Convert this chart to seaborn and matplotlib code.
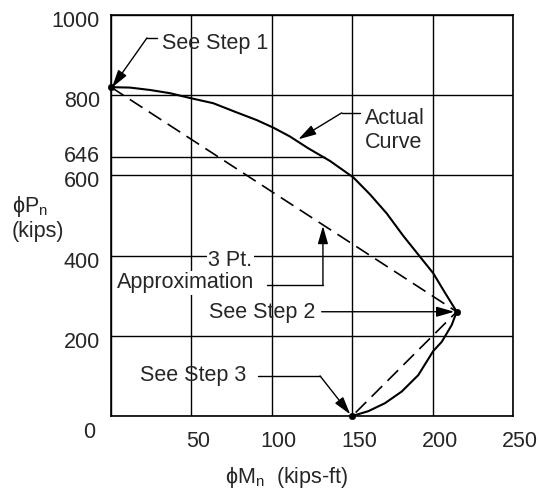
import matplotlib
matplotlib.use("Agg")
import matplotlib.pyplot as plt
import matplotlib.transforms as mtransforms
import seaborn as sns
import pandas as pd

# ---- data ----
moment_actual = [0, 11.8, 24.3, 36.7, 50.2, 63.6, 78.2, 90.6, 101, 111.3, 122.5,
                 136.2, 150.7, 161, 171.5, 181.8, 192.2, 200.4, 206.7, 215,
                 211.9, 205.7, 200.4, 191.1, 180.8, 170.4, 160, 150]
axial_actual = [820, 819, 813, 805, 792, 780, 757, 738, 719, 697, 668,
                636, 595, 553, 505, 449, 397, 356, 314, 260,
                227, 185, 162, 102, 61, 32, 12, 0]
moment_approx = [0, 215, 150]
axial_approx = [820, 260, 0]
ref_line_p = 646
ref_line_m_end = 133
x_ticks = [0, 50, 100, 150, 200, 250]
x_labels = ["", "50", "100", "150", "200", "250"]
y_ticks = [0, 200, 400, 600, 800, 1000]
y_labels = ["0", "200", "400", "600", "800", "1000"]

# annotations: text, text position, leader path, arrow tip
notes = [
    dict(text="See Step 1", pos=(31.7, 930), path=[(28.6, 943), (22.4, 943)], tip=(0.6, 819), box=False),
    dict(text="Actual\nCurve", pos=(158, 711), path=[(155, 756), (143.5, 756)], tip=(116.5, 690), box=False),
    dict(text="See Step 2", pos=(61, 257), path=[(131, 260)], tip=(213.5, 260), box=False),
    dict(text="See Step 3", pos=(18, 100), path=[(91.4, 100), (130, 100)], tip=(148.8, 4), box=False),
    dict(text="Approximation", pos=(3.7, 332), path=[(97, 327), (131.8, 327)], tip=(131.8, 474), box=True),
    dict(text="3 Pt.", pos=(60.5, 389), path=[], tip=None, box=True),
]

sns.set_style("white")
plt.rcParams["font.family"] = ["Liberation Sans", "DejaVu Sans"]
plt.rcParams["mathtext.fontset"] = "custom"
plt.rcParams["mathtext.rm"] = "Liberation Sans"
plt.rcParams["mathtext.it"] = "Liberation Sans"

FS = 15.5
fig = plt.figure(figsize=(5.4, 4.91), dpi=100)
ax = fig.add_axes([111 / 540, 75 / 491, 402 / 540, 401 / 491])

ax.set_xlim(0, 250)
ax.set_ylim(0, 1000)
ax.set_xticks(x_ticks)
ax.set_xticklabels(x_labels, fontsize=FS)
ax.set_yticks(y_ticks)
ax.set_yticklabels(y_labels, fontsize=FS)
ax.set_yticks([ref_line_p], minor=True)
ax.set_yticklabels([str(ref_line_p)], minor=True, fontsize=FS)
ax.tick_params(axis="both", which="both", length=0)
ax.tick_params(axis="y", which="both", pad=8)
ax.tick_params(axis="x", which="both", pad=11)
ax.grid(True, which="major", color="black", lw=1.0)
ax.set_axisbelow(True)
for s in ax.spines.values():
    s.set_visible(True)
    s.set_color("black")
    s.set_linewidth(1.2)

# reference line at 646
ax.plot([0, ref_line_m_end], [ref_line_p, ref_line_p], color="black", lw=1.0)

df_actual = pd.DataFrame({"M": moment_actual, "P": axial_actual})
sns.lineplot(data=df_actual, x="M", y="P", sort=False, estimator=None,
             color="black", lw=1.5, ax=ax)
df_approx = pd.DataFrame({"M": moment_approx, "P": axial_approx})
sns.lineplot(data=df_approx, x="M", y="P", sort=False, estimator=None,
             color="black", lw=1.2, ax=ax)
ax.lines[-1].set_dashes((9, 4.5))
sns.scatterplot(x=moment_approx, y=axial_approx, color="black", s=22,
                edgecolor="black", zorder=6, ax=ax, clip_on=False)
ax.set_xlabel("")
ax.set_ylabel("")

for n in notes:
    kw = {}
    if n["box"]:
        kw["bbox"] = dict(facecolor="white", edgecolor="none", pad=1)
    ax.text(n["pos"][0], n["pos"][1], n["text"], fontsize=FS, ha="left",
            va="center", linespacing=1.2, zorder=4, **kw)
    if n["path"]:
        xs = [p[0] for p in n["path"]]
        ys = [p[1] for p in n["path"]]
        if len(n["path"]) > 1:
            ax.plot(xs, ys, color="black", lw=1.0, zorder=5)
        ax.annotate("", xy=n["tip"], xytext=n["path"][-1],
                    arrowprops=dict(arrowstyle="-|>,head_length=0.7,head_width=0.2",
                                    color="black", lw=1.0, shrinkA=0, shrinkB=0),
                    fontsize=FS, zorder=5)

# shift tick labels to mirror the reference layout
dpi = fig.dpi
for lbl in ax.get_xticklabels():
    lbl.set_transform(lbl.get_transform() + mtransforms.ScaledTranslation(7 / dpi, 0, fig.dpi_scale_trans))
for lbl in ax.get_yticklabels() + ax.get_yticklabels(minor=True):
    dx, dy = 0, -4
    if lbl.get_text() == "0":
        dx, dy = -5, -14
    elif lbl.get_text() == str(ref_line_p):
        dx, dy = 0, 3
    lbl.set_transform(lbl.get_transform() + mtransforms.ScaledTranslation(dx / dpi, dy / dpi, fig.dpi_scale_trans))

fig.text(12 / 540, 1 - 207 / 491, "ϕP$_\\mathregular{n}$", fontsize=FS, ha="left", va="center")
fig.text(12 / 540, 1 - 231 / 491, "(kips)", fontsize=FS, ha="left", va="center")
fig.text(287 / 540, 1 - 478 / 491, "ϕM$_\\mathregular{n}$  (kips-ft)", fontsize=FS, ha="center", va="center")

fig.savefig("out.png", dpi=100)
